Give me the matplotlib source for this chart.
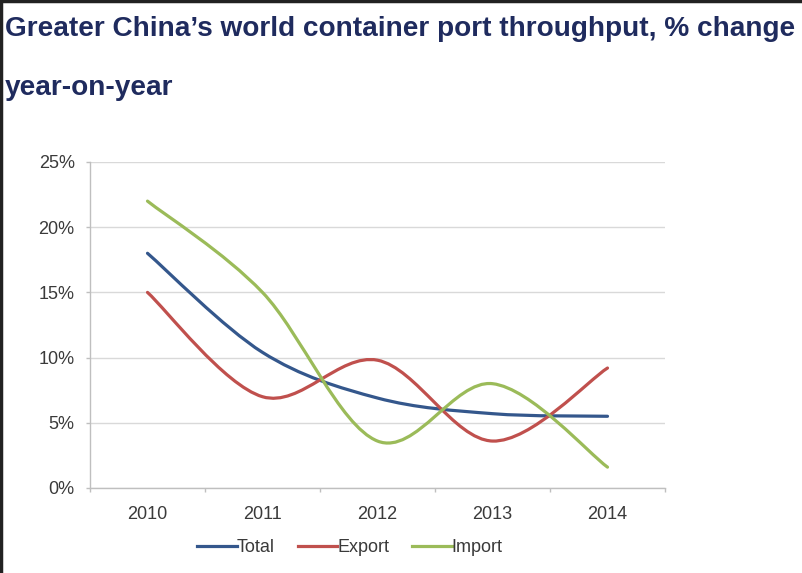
import matplotlib
matplotlib.use("Agg")
import matplotlib.pyplot as plt
from matplotlib.path import Path
from matplotlib.patches import PathPatch
from matplotlib.lines import Line2D
import numpy as np

# Data: % change year-on-year
years = ["2010", "2011", "2012", "2013", "2014"]
total = [18.0, 10.4, 6.9, 5.7, 5.5]
export = [15.0, 7.0, 9.8, 3.6, 9.2]
imports = [22.0, 15.0, 3.6, 8.0, 1.6]

series = [("Total", total, "#34578c"),
          ("Export", export, "#c0504d"),
          ("Import", imports, "#9bbb59")]

W, H = 802, 573
fig = plt.figure(figsize=(W / 100, H / 100), dpi=100)
fig.patch.set_facecolor("white")

ax = fig.add_axes([90 / W, (H - 488) / H, (665 - 90) / W, (488 - 162) / H])
ax.set_xlim(-0.5, len(years) - 0.5)
ax.set_ylim(0, 25)


def smooth_path(xs, ys):
    """Cardinal (Catmull-Rom) Bezier path through the points."""
    pts = np.column_stack([xs, ys]).astype(float)
    n = len(pts)
    verts = [pts[0]]
    codes = [Path.MOVETO]
    for i in range(n - 1):
        p_prev = pts[i - 1] if i > 0 else pts[i]
        p0, p1 = pts[i], pts[i + 1]
        p_next = pts[i + 2] if i + 2 < n else pts[i + 1]
        c1 = p0 + (p1 - p_prev) / 6.0
        c2 = p1 - (p_next - p0) / 6.0
        verts += [c1, c2, p1]
        codes += [Path.CURVE4] * 3
    return Path(verts, codes)


x = np.arange(len(years))
handles = []
for name, vals, color in series:
    patch = PathPatch(smooth_path(x, vals), facecolor="none", edgecolor=color,
                      lw=2.3, capstyle="round", joinstyle="round", zorder=3)
    ax.add_patch(patch)
    handles.append(Line2D([], [], color=color, lw=2.3, label=name))

# Grid and axes styling
ax.set_yticks([0, 5, 10, 15, 20, 25])
ax.set_yticklabels(["0%", "5%", "10%", "15%", "20%", "25%"])
ax.yaxis.grid(True, color="#d9d9d9", lw=1.0)
ax.set_axisbelow(True)
ax.set_xticks(x)
ax.set_xticklabels(years)
ax.set_xticks(np.arange(-0.5, len(years)), minor=True)
ax.tick_params(axis="x", which="major", length=0, pad=13)
ax.tick_params(axis="x", which="minor", length=3, color="#bfbfbf", width=1)
ax.tick_params(axis="y", length=3, color="#bfbfbf", width=1, pad=8)
for lab in ax.get_xticklabels() + ax.get_yticklabels():
    lab.set_fontfamily("Liberation Sans")
    lab.set_fontsize(13)
    lab.set_color("#3a3a3a")
for side in ["top", "right"]:
    ax.spines[side].set_visible(False)
for side in ["left", "bottom"]:
    ax.spines[side].set_color("#bfbfbf")
    ax.spines[side].set_linewidth(1.0)

leg = fig.legend(handles=handles, loc="center", bbox_to_anchor=(350 / W, (H - 548) / H),
                 ncol=3, frameon=False, handlelength=2.2, handletextpad=0.0,
                 columnspacing=1.25,
                 prop={"family": "Liberation Sans", "size": 13})
for t in leg.get_texts():
    t.set_color("#3a3a3a")

# Title
title_kw = dict(fontfamily="Liberation Sans", fontweight="bold", fontsize=20.2,
                color="#1f2b5e", va="baseline", ha="left")
fig.text(5 / W, (H - 36) / H, "Greater China\u2019s world container port throughput, % change",
         **title_kw)
fig.text(5 / W, (H - 95) / H, "year-on-year", **title_kw)

# Frame on top and left edges
fig.add_artist(Line2D([1 / W, 1 / W], [0, 1], transform=fig.transFigure,
                      color="#222222", lw=2.5))
fig.add_artist(Line2D([0, 1], [1 - 1 / H, 1 - 1 / H], transform=fig.transFigure,
                      color="#222222", lw=2.5))

fig.savefig("out.png", dpi=100, facecolor="white")
